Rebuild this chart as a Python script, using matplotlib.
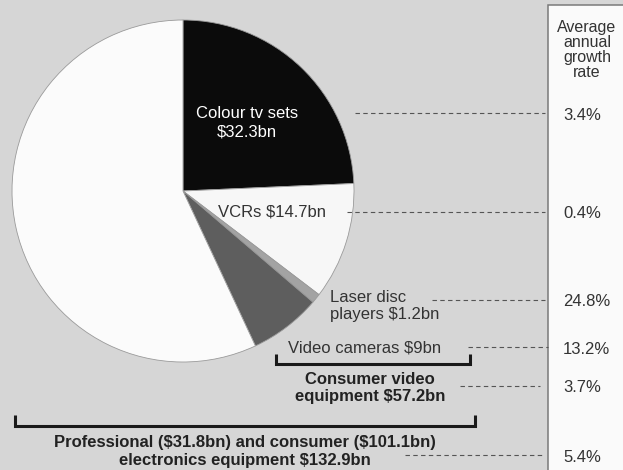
import numpy as np
import matplotlib.pyplot as plt
from matplotlib.patches import Rectangle

plt.rcParams['font.family'] = ['Liberation Sans', 'DejaVu Sans']
plt.rcParams['text.parse_math'] = False

## Data ($bn)
segments = ['Colour tv sets', 'VCRs', 'Laser disc players', 'Video cameras', 'Other']
values_bn = [32.3, 14.7, 1.2, 9.0]
total_bn = 132.9
consumer_video_bn = 57.2
professional_bn = 31.8
consumer_bn = 101.1
growth = ['3.4%', '0.4%', '24.8%', '13.2%', '3.7%', '5.4%']

pie_values = values_bn + [total_bn - consumer_video_bn]
colors = ['#0b0b0b', '#f7f7f7', '#a3a3a3', '#5e5e5e', '#fbfbfb']

W, H = 623, 470
def Y(p):
    # pixel row (from top) -> data y
    return H - p

fig = plt.figure(figsize=(W / 100, H / 100), dpi=100)
fig.patch.set_facecolor('#d6d6d6')
ax = fig.add_axes([0, 0, 1, 1])
ax.set_facecolor('#d6d6d6')

ax.pie(pie_values, colors=colors, startangle=90, counterclock=False,
       center=(183, Y(191)), radius=171,
       wedgeprops=dict(linewidth=0.6, edgecolor='#9a9a9a'))
ax.set_xlim(0, W)
ax.set_ylim(0, H)
ax.set_aspect('auto')
ax.axis('off')

txt = dict(fontsize=12, color='#333333')
bold = dict(fontsize=12, color='#222222', fontweight='bold')

# labels inside / beside pie
ax.text(247, Y(123), 'Colour tv sets\n$%.1fbn' % values_bn[0], color='white',
        fontsize=12, ha='center', va='center', linespacing=1.25)
ax.text(218, Y(212), 'VCRs $%.1fbn' % values_bn[1], ha='left', va='center', **txt)
ax.text(330, Y(306), 'Laser disc\nplayers $%.1fbn' % values_bn[2], ha='left', va='center',
        linespacing=1.25, **txt)
ax.text(365, Y(348), 'Video cameras $%.0fbn' % values_bn[3], ha='center', va='center', **txt)
ax.text(370, Y(388), 'Consumer video\nequipment $%.1fbn' % consumer_video_bn,
        ha='center', va='center', linespacing=1.25, **bold)
ax.text(245, Y(451), 'Professional ($%.1fbn) and consumer ($%.1fbn)\nelectronics equipment $%.1fbn'
        % (professional_bn, consumer_bn, total_bn),
        ha='center', va='center', linespacing=1.25, **bold)

# brackets
for x0, x1, yb, yt in [(276, 470, 364, 354), (15, 475, 426, 415)]:
    ax.plot([x0, x0, x1, x1], [Y(yt), Y(yb), Y(yb), Y(yt)], color='#1a1a1a', lw=2.2,
            solid_joinstyle='miter', solid_capstyle='butt')

# right panel
ax.add_patch(Rectangle((548, -5), 100, Y(5) + 5, facecolor='#fafafa',
                       edgecolor='#7a7a7a', lw=1.1, zorder=1))
ax.text(587, Y(20), 'Average\nannual\ngrowth\nrate', ha='center', va='top',
        fontsize=11.5, color='#333333', linespacing=1.0)

# growth rates and leader lines
rows = [113, 212, 300, 347, 386, 455]
leaders = [(355, 545), (347, 545), (432, 545), (468, 548), (460, 540), (405, 545)]
for g, r, (xa, xb) in zip(growth, rows, leaders):
    ax.text(563, Y(r + 2), g, ha='left', va='center', **txt)
    ax.plot([xa, xb], [Y(r), Y(r)], color='#555555', lw=0.8, dashes=(4, 3))

fig.savefig('out.png', dpi=100, facecolor=fig.get_facecolor())
